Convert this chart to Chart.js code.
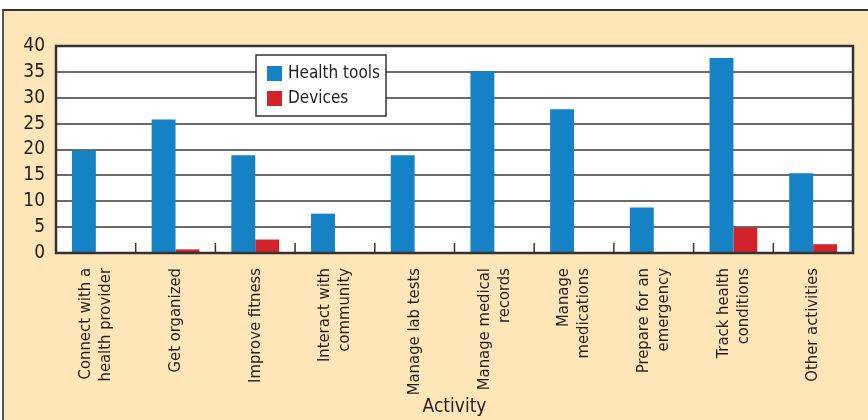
<!DOCTYPE html>
<html>
<head>
<meta charset="utf-8">
<script src="https://cdn.jsdelivr.net/npm/chart.js@4"></script>
<style>
  html, body { margin: 0; padding: 0; background: #fff; }
  #frame {
    position: absolute; left: 2px; top: 9px; width: 866px; height: 411px;
    background: #FFE6B9; border-top: 2px solid #333; border-left: 2px solid #555;
    box-sizing: border-box;
  }
  #wrap { position: absolute; left: 0; top: 0; width: 868px; height: 420px; }
</style>
</head>
<body>
<div id="frame"></div>
<div id="wrap"><canvas id="chart" width="868" height="420"></canvas></div>
<script>
// values
const activities = [
  ['Connect with a', 'health provider'],
  'Get organized',
  'Improve fitness',
  ['Interact with', 'community'],
  'Manage lab tests',
  ['Manage medical', 'records'],
  ['Manage', 'medications'],
  ['Prepare for an', 'emergency'],
  ['Track health', 'conditions'],
  'Other activities'
];
const healthTools = [19.8, 25.8, 18.9, 7.6, 18.9, 35.1, 27.8, 8.8, 37.7, 15.4];
const devices = [0, 0.7, 2.6, 0, 0, 0, 0, 0, 4.9, 1.7];
const yTicks = [0, 5, 10, 15, 20, 25, 30, 35, 40];

const FONT = '"DejaVu Sans Condensed", "Liberation Sans Narrow", sans-serif';
const INK = '#231f20';
const LABEL_SIZE = 16.5, LABEL_LH = 1.2;

// white plot background, frame, inside ticks and the legend box
const plotDecor = {
  id: 'plotDecor',
  beforeDraw(chart) {
    const a = chart.chartArea, ctx = chart.ctx;
    ctx.save();
    ctx.fillStyle = '#fff';
    ctx.fillRect(a.left, a.top, a.right - a.left, a.bottom - a.top);
    ctx.restore();
    // center two-line rotated labels on their category
    const items = chart.scales.x.getLabelItems();
    items.forEach(it => {
      if (Array.isArray(it.label) && !it._centered) {
        it.options.translation[0] -= (it.label.length - 1) * LABEL_SIZE * LABEL_LH / 2;
        it._centered = true;
      }
    });
  },
  afterDraw(chart) {
    const a = chart.chartArea, ctx = chart.ctx, x = chart.scales.x;
    ctx.save();
    // small ticks between categories, pointing up into the plot
    ctx.strokeStyle = '#333';
    ctx.lineWidth = 1.5;
    for (let i = 1; i < activities.length; i++) {
      const px = (x.getPixelForValue(i - 1) + x.getPixelForValue(i)) / 2;
      ctx.beginPath();
      ctx.moveTo(px, a.bottom);
      ctx.lineTo(px, a.bottom - 10);
      ctx.stroke();
    }
    // plot frame
    ctx.strokeStyle = '#333';
    ctx.lineWidth = 2.5;
    ctx.strokeRect(a.left, a.top, a.right - a.left, a.bottom - a.top);

    // legend
    const lx = 256, ly = 55, lw = 130, lh = 61;
    ctx.fillStyle = '#fff';
    ctx.fillRect(lx, ly, lw, lh);
    ctx.strokeStyle = '#333';
    ctx.lineWidth = 1.5;
    ctx.strokeRect(lx, ly, lw, lh);
    ctx.font = '17px ' + FONT;
    ctx.textBaseline = 'middle';
    chart.data.datasets.forEach((ds, i) => {
      const y = ly + 11 + i * 25;
      ctx.fillStyle = ds.backgroundColor;
      ctx.fillRect(lx + 11, y, 15, 15);
      ctx.fillStyle = INK;
      ctx.fillText(ds.label, lx + 32, y + 8);
    });
    ctx.restore();
  }
};

new Chart(document.getElementById('chart'), {
  type: 'bar',
  data: {
    labels: activities,
    datasets: [
      { label: 'Health tools', data: healthTools, backgroundColor: '#1582C5' },
      { label: 'Devices', data: devices, backgroundColor: '#D2232A' }
    ]
  },
  options: {
    responsive: false,
    animation: false,
    events: [],
    layout: { padding: { left: 0, top: 46, right: 15, bottom: 0 } },
    datasets: { bar: { categoryPercentage: 0.6, barPercentage: 1.0, borderWidth: 0 } },
    plugins: { legend: { display: false }, tooltip: { enabled: false } },
    scales: {
      x: {
        afterFit(scale) { scale.height = 167; },
        grid: { display: false, drawTicks: false },
        border: { display: false },
        ticks: {
          minRotation: 90, maxRotation: 90, autoSkip: false, padding: 15,
          color: INK, font: { family: FONT, size: LABEL_SIZE, lineHeight: LABEL_LH }
        },
        title: {
          display: true, text: 'Activity', color: INK,
          font: { family: FONT, size: 19 }, padding: { top: 0, bottom: 2 }
        }
      },
      y: {
        min: 0, max: 40,
        afterFit(scale) { scale.width = 56; },
        afterBuildTicks(scale) { scale.ticks = yTicks.map(v => ({ value: v })); },
        grid: { color: '#6a6a6a', lineWidth: 2, drawTicks: false },
        border: { display: false },
        ticks: { stepSize: 5, autoSkip: false, padding: 11, color: INK, font: { family: FONT, size: 19 } }
      }
    }
  },
  plugins: [plotDecor]
});
</script>
</body>
</html>
